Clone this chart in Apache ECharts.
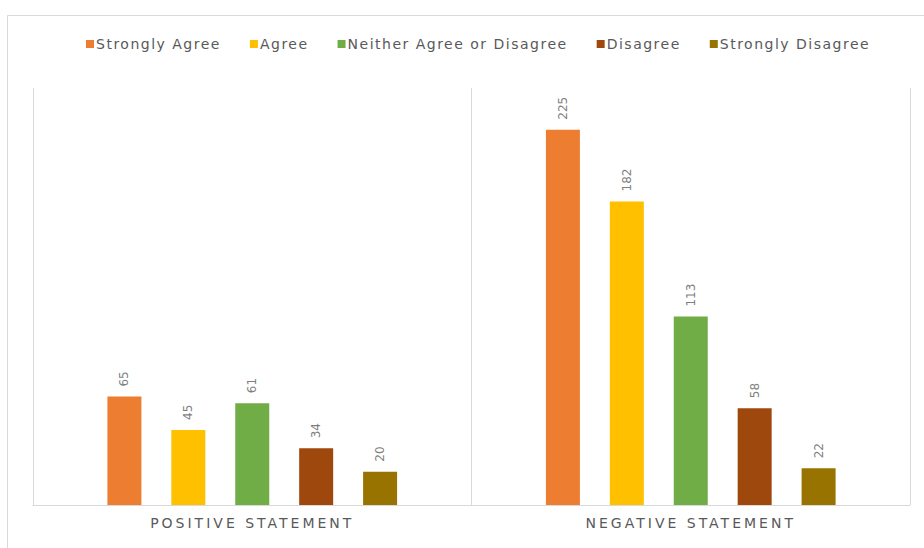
<!DOCTYPE html>
<html>
<head>
<meta charset="utf-8">
<script src="https://cdn.jsdelivr.net/npm/echarts@6/dist/echarts.min.js"></script>
<style>
html,body{margin:0;padding:0;background:#fff;}
#c{width:924px;height:548px;}
</style>
</head>
<body>
<div id="c"></div>
<script>
const categories = ['POSITIVE STATEMENT', 'NEGATIVE STATEMENT'];
const seriesNames = ['Strongly Agree', 'Agree', 'Neither Agree or Disagree', 'Disagree', 'Strongly Disagree'];
const stronglyAgree = [65, 225];
const agree = [45, 182];
const neither = [61, 113];
const disagree = [34, 58];
const stronglyDisagree = [20, 22];
const colors = ['#ED7D31', '#FFC000', '#70AD47', '#9E480E', '#997300'];

const values = [stronglyAgree, agree, neither, disagree, stronglyDisagree];
const font = 'DejaVu Sans';
const legendSize = 14, legendSpacing = 1.5;
const catSpacing = 3;
const legendStart = 86, legendMarker = 8, legendTextGap = 2, legendItemGap = 29;

// measure legend text so each widened (letter-spaced) label gets its room
const mctx = document.createElement('canvas').getContext('2d');
mctx.font = legendSize + 'px "' + font + '"';
let x = legendStart;
const legends = seriesNames.map(n => {
  const w = mctx.measureText(n).width + legendSpacing * n.length;
  const lg = {
    top: 37, left: x, padding: 0,
    itemWidth: legendMarker, itemHeight: legendMarker,
    icon: 'rect', data: [n],
    textStyle: {color: '#595959', fontSize: legendSize, fontFamily: font,
                padding: [0, 0, 0, legendTextGap - 5]}
  };
  x += legendMarker + legendTextGap + w + legendItemGap;
  return lg;
});

const chart = echarts.init(document.getElementById('c'), null, {renderer: 'svg'});
chart.setOption({
  animation: false,
  color: colors,
  graphic: [{
    type: 'rect', left: 5, top: 13, shape: {width: 930, height: 560},
    style: {fill: 'none', stroke: '#d9d9d9', lineWidth: 1}, silent: true
  }],
  legend: legends,
  grid: {left: 33, right: 14, top: 88, bottom: 43},
  xAxis: {
    type: 'category', data: categories,
    axisLine: {lineStyle: {color: '#d9d9d9', width: 1}},
    axisTick: {show: false},
    splitLine: {show: true, lineStyle: {color: '#d9d9d9', width: 1}},
    axisLabel: {color: '#595959', fontSize: 14, fontFamily: font, margin: 11}
  },
  yAxis: {type: 'value', min: 0, max: 250, show: false, splitLine: {show: false}},
  series: seriesNames.map((n, i) => ({
    name: n, type: 'bar', data: values[i],
    barWidth: 34, barGap: '88%', barCategoryGap: '34%',
    label: {
      show: true, position: 'top', rotate: 90, align: 'left', verticalAlign: 'middle',
      distance: 10, color: '#7f7f7f', fontSize: 12, fontFamily: font
    }
  }))
});
// spaced lettering, as in the reference
document.querySelectorAll('#c svg text').forEach(t => {
  if (categories.includes(t.textContent)) t.style.letterSpacing = catSpacing + 'px';
  if (seriesNames.includes(t.textContent)) t.style.letterSpacing = legendSpacing + 'px';
});
</script>
</body>
</html>
